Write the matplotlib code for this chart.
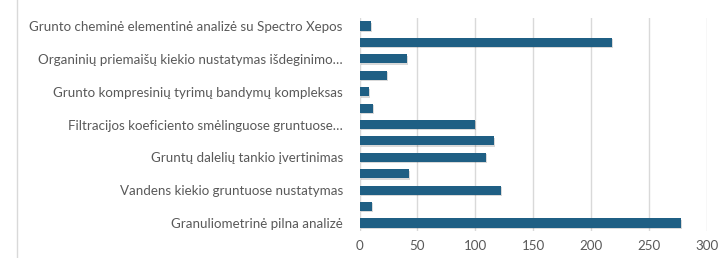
import matplotlib
matplotlib.use("Agg")
import matplotlib.pyplot as plt
import matplotlib.patheffects as pe
from matplotlib.lines import Line2D

categories = [
    "Grunto cheminė elementinė analizė su Spectro Xepos",
    "",
    "Organinių priemaišų kiekio nustatymas išdeginimo…",
    "",
    "Grunto kompresinių tyrimų bandymų kompleksas",
    "",
    "Filtracijos koeficiento smėlinguose gruntuose…",
    "",
    "Gruntų dalelių tankio įvertinimas",
    "",
    "Vandens kiekio gruntuose nustatymas",
    "",
    "Granuliometrinė pilna analizė",
]
values = [10, 218, 41, 24, 8, 12, 100, 116, 109, 43, 122, 11, 278]
xticks = [0, 50, 100, 150, 200, 250, 300]

plt.rcParams['font.family'] = ['Lato', 'DejaVu Sans']

fig = plt.figure(figsize=(7.19, 2.58), dpi=100)
ax = fig.add_axes([359.5/719, 1 - 231.2/258, (706.7 - 359.5)/719, (231.2 - 17.8)/258])

ypos = list(range(len(categories)))
bars = ax.barh(ypos, values, height=0.55, color="#1F5F84", zorder=3)
for b in bars:
    b.set_path_effects([pe.SimplePatchShadow(offset=(0.8, -1.0), shadow_rgbFace="#000000", alpha=0.15), pe.Normal()])

ax.set_yticks(ypos)
ax.set_yticklabels(categories)
ax.set_ylim(len(categories) - 0.5, -0.5)
ax.set_xlim(0, 300)
ax.set_xticks(xticks)
ax.set_xticklabels([str(t) for t in xticks])

ax.grid(axis="x", color="#D9D9D9", linewidth=1.0, zorder=0)
for s in ax.spines.values():
    s.set_visible(False)
ax.tick_params(axis="both", length=0, colors="#595959", labelsize=9.6)
ax.tick_params(axis="y", pad=12)
ax.tick_params(axis="x", pad=6)

fig.add_artist(Line2D([17/719, 17/719], [0, 1], color="#D9D9D9", linewidth=1.0, transform=fig.transFigure))

fig.savefig("out.png", dpi=100)
